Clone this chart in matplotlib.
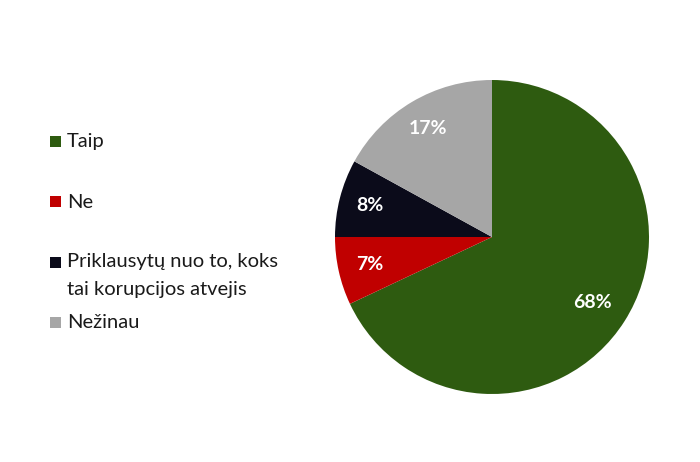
import matplotlib
matplotlib.use("Agg")
import matplotlib.pyplot as plt
from matplotlib.patches import Rectangle

# =========================
# DATA
# =========================
labels = ["Taip", "Ne", "Priklausytų nuo to, koks\ntai korupcijos atvejis", "Nežinau"]
shares = [68, 7, 8, 17]
colors = ["#2E5B10", "#C00000", "#0B0B1A", "#A6A6A6"]

W, H = 700, 462
FONT = ["Lato", "DejaVu Sans"]

fig = plt.figure(figsize=(W / 100, H / 100), dpi=100)
fig.patch.set_facecolor("white")

# pie axes: centre ~ (492, 237) px, radius ~157 px
cx, cy, r = 492, 237, 157
ax = fig.add_axes([(cx - r) / W, (H - cy - r) / H, 2 * r / W, 2 * r / H])
wedges, _, autotexts = ax.pie(
    shares, colors=colors, startangle=90, counterclock=False,
    autopct="%d%%", pctdistance=0.8,
    wedgeprops=dict(linewidth=0),
    textprops=dict(color="white", fontsize=14, fontweight="bold", family=FONT),
)
autotexts[0].set_position((0.64, -0.42))
ax.set_xlim(-1, 1)
ax.set_ylim(-1, 1)
ax.set_aspect("equal")
ax.axis("off")

# legend, drawn by hand (uneven spacing in the original)
entry_y = [141, 202, 262, 322]   # pixel centre of first line
line_step = 27
for lab, col, y in zip(labels, colors, entry_y):
    fig.add_artist(Rectangle((50 / W, 1 - (y + 5.5) / H), 11 / W, 11 / H,
                             transform=fig.transFigure, facecolor=col,
                             edgecolor="none"))
    for i, line in enumerate(lab.split("\n")):
        fig.text(67 / W, 1 - (y + i * line_step) / H, line, va="center",
                 ha="left", fontsize=14.5, color="#1A1A1A", family=FONT)

plt.savefig("out.png", dpi=100, facecolor="white")
